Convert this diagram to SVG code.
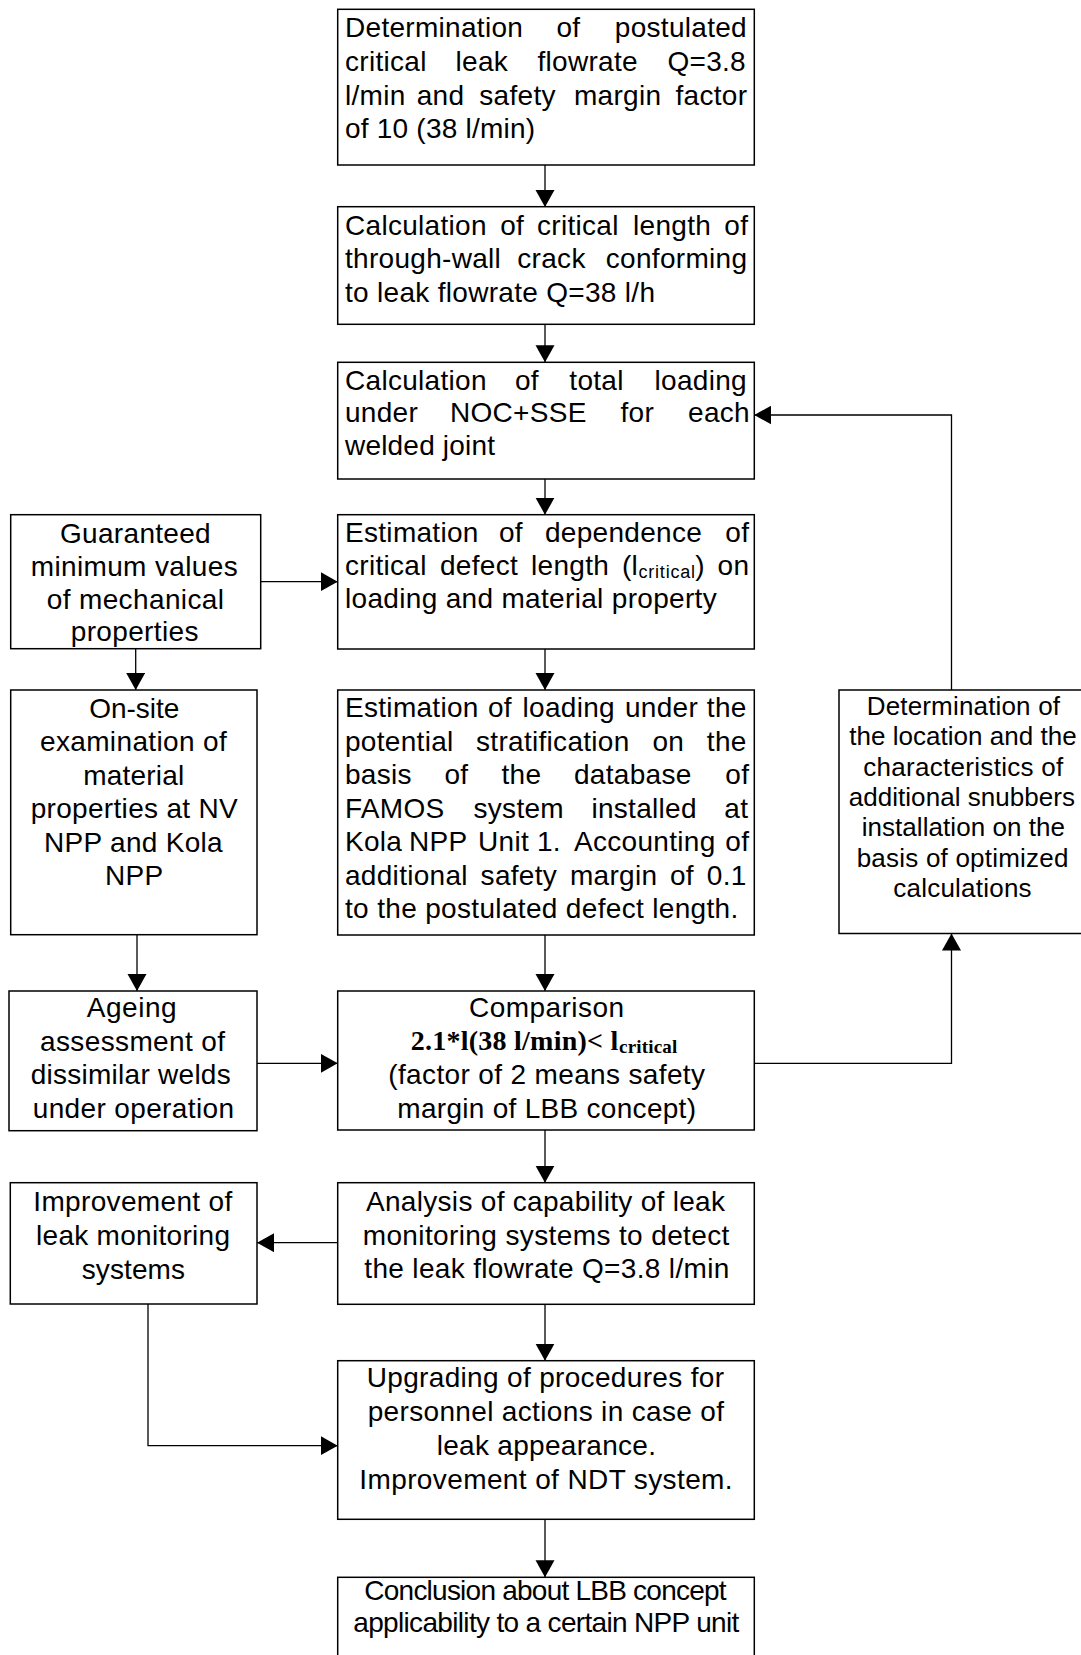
<svg xmlns="http://www.w3.org/2000/svg" width="1081" height="1655" viewBox="0 0 1081 1655">
<style>
.box{fill:#fff;stroke:#000;stroke-width:1.5}
.t{font-family:"Liberation Sans",Arial,sans-serif;font-size:28px;fill:#000;letter-spacing:0.3px}
.l{font-family:"Liberation Sans",Arial,sans-serif;font-size:28px;fill:#000}
.r{font-family:"Liberation Sans",Arial,sans-serif;font-size:26px;fill:#000}
.e{text-anchor:end}
.sub{font-family:"Liberation Sans",Arial,sans-serif;font-size:18px;fill:#000}
.b{font-family:"Liberation Serif","Times New Roman",serif;font-weight:bold;font-size:28px;fill:#000}
.bs{font-family:"Liberation Serif","Times New Roman",serif;font-weight:bold;font-size:19px;fill:#000}
.c{fill:none;stroke:#000;stroke-width:1.3}
</style>
<defs>
<marker id="ah" markerUnits="userSpaceOnUse" markerWidth="18" markerHeight="20" refX="17" refY="9.5" orient="auto">
<path d="M0,0 L17,9.5 L0,19 z" fill="#000"/>
</marker>
</defs>
<rect width="1081" height="1655" fill="#fff"/>

<g id="connectors">
<line class="c" x1="545" y1="165" x2="545" y2="207" marker-end="url(#ah)"/>
<line class="c" x1="545" y1="324.3" x2="545" y2="362.3" marker-end="url(#ah)"/>
<line class="c" x1="545" y1="479" x2="545" y2="514.7" marker-end="url(#ah)"/>
<line class="c" x1="545" y1="649" x2="545" y2="690" marker-end="url(#ah)"/>
<line class="c" x1="545" y1="935" x2="545" y2="991" marker-end="url(#ah)"/>
<line class="c" x1="545" y1="1130" x2="545" y2="1182.7" marker-end="url(#ah)"/>
<line class="c" x1="545" y1="1304.3" x2="545" y2="1360.7" marker-end="url(#ah)"/>
<line class="c" x1="545" y1="1519.3" x2="545" y2="1577.3" marker-end="url(#ah)"/>
<line class="c" x1="260.7" y1="581.7" x2="337.7" y2="581.7" marker-end="url(#ah)"/>
<line class="c" x1="135.7" y1="648.7" x2="135.7" y2="690" marker-end="url(#ah)"/>
<line class="c" x1="137" y1="934.7" x2="137" y2="991" marker-end="url(#ah)"/>
<line class="c" x1="257" y1="1063.3" x2="337.7" y2="1063.3" marker-end="url(#ah)"/>
<polyline class="c" points="754.3,1063.3 951.5,1063.3 951.5,933.5" marker-end="url(#ah)"/>
<polyline class="c" points="951.5,690 951.5,415 754.3,415" marker-end="url(#ah)"/>
<line class="c" x1="337.7" y1="1242.7" x2="257" y2="1242.7" marker-end="url(#ah)"/>
<polyline class="c" points="148,1304 148,1445.7 337.7,1445.7" marker-end="url(#ah)"/>
</g>

<g id="n1">
<rect class="box" x="337.7" y="9.3" width="416.6" height="155.7"/>
<text class="t" y="37"><tspan x="345">Determination</tspan><tspan x="556.5">of</tspan></text>
<text class="t e" x="747" y="37">postulated</text>
<text class="t" y="71"><tspan x="345">critical</tspan><tspan x="455.5">leak</tspan><tspan x="537.5">flowrate</tspan></text>
<text class="t e" x="746" y="71">Q=3.8</text>
<text class="t" y="105"><tspan x="345">l/min</tspan><tspan x="416.7">and</tspan><tspan x="479.3">safety</tspan><tspan x="574">margin</tspan></text>
<text class="t e" x="747.3" y="105">factor</text>
<text class="l" x="345" y="138" textLength="190" lengthAdjust="spacing">of 10 (38 l/min)</text>
</g>

<g id="n2">
<rect class="box" x="337.7" y="206.7" width="416.6" height="117.6"/>
<text class="t" y="235"><tspan x="345">Calculation</tspan><tspan x="500.2">of</tspan><tspan x="537">critical</tspan><tspan x="633">length</tspan></text>
<text class="t e" x="748.3" y="235">of</text>
<text class="t" y="268.3"><tspan x="345">through-wall</tspan><tspan x="517.3">crack</tspan></text>
<text class="t e" x="747.3" y="268.3">conforming</text>
<text class="l" x="345" y="301.7" textLength="310" lengthAdjust="spacing">to leak flowrate Q=38 l/h</text>
</g>

<g id="n3">
<rect class="box" x="337.7" y="362.3" width="416.6" height="116.7"/>
<text class="t" y="390"><tspan x="345">Calculation</tspan><tspan x="515">of</tspan><tspan x="569.3">total</tspan></text>
<text class="t e" x="747" y="390">loading</text>
<text class="t" y="422"><tspan x="345">under</tspan><tspan x="450">NOC+SSE</tspan><tspan x="620.5">for</tspan></text>
<text class="t e" x="750" y="422">each</text>
<text class="l" x="345" y="455" textLength="150" lengthAdjust="spacing">welded joint</text>
</g>

<g id="n4">
<rect class="box" x="337.7" y="514.7" width="416.6" height="134.3"/>
<text class="t" y="541.7"><tspan x="345">Estimation</tspan><tspan x="499">of</tspan><tspan x="545">dependence</tspan></text>
<text class="t e" x="749.3" y="541.7">of</text>
<text class="t" y="575"><tspan x="345">critical</tspan><tspan x="440">defect</tspan><tspan x="531">length</tspan><tspan x="622">(l</tspan></text>
<text class="sub" x="638.5" y="578" textLength="56.5" lengthAdjust="spacing">critical</text>
<text class="t" x="695.2" y="575">)</text>
<text class="t e" x="749.3" y="575">on</text>
<text class="l" x="345" y="608.3" textLength="371.7" lengthAdjust="spacing">loading and material property</text>
</g>

<g id="n5">
<rect class="box" x="337.7" y="690" width="416.6" height="245"/>
<text class="t" y="717"><tspan x="345">Estimation</tspan><tspan x="488">of</tspan><tspan x="522.5">loading</tspan><tspan x="625">under</tspan></text>
<text class="t e" x="746.7" y="717">the</text>
<text class="t" y="750.5"><tspan x="345">potential</tspan><tspan x="476">stratification</tspan><tspan x="652.5">on</tspan></text>
<text class="t e" x="746.7" y="750.5">the</text>
<text class="t" y="784"><tspan x="345">basis</tspan><tspan x="444.5">of</tspan><tspan x="501.5">the</tspan><tspan x="574">database</tspan></text>
<text class="t e" x="749.3" y="784">of</text>
<text class="t" y="817.5"><tspan x="345">FAMOS</tspan><tspan x="473.5">system</tspan><tspan x="591.4">installed</tspan></text>
<text class="t e" x="748.3" y="817.5">at</text>
<text class="t" y="851"><tspan x="345">Kola</tspan><tspan x="409">NPP</tspan><tspan x="478">Unit</tspan><tspan x="537">1.</tspan><tspan x="574">Accounting</tspan></text>
<text class="t e" x="749.3" y="851">of</text>
<text class="t" y="884.5"><tspan x="345">additional</tspan><tspan x="480.6">safety</tspan><tspan x="570">margin</tspan><tspan x="670">of</tspan></text>
<text class="t e" x="746.7" y="884.5">0.1</text>
<text class="l" x="345" y="918" textLength="393.3" lengthAdjust="spacing">to the postulated defect length.</text>
</g>

<g id="n6">
<rect class="box" x="337.7" y="991" width="416.6" height="139"/>
<text class="l" x="469" y="1017" textLength="155" lengthAdjust="spacing">Comparison</text>
<text class="b" x="410.7" y="1050" textLength="207.6" lengthAdjust="spacing">2.1*l(38 l/min)&lt; l</text>
<text class="bs" x="619" y="1053" textLength="58.3" lengthAdjust="spacing">critical</text>
<text class="l" x="388.3" y="1084" textLength="316.7" lengthAdjust="spacing">(factor of 2 means safety</text>
<text class="l" x="397.3" y="1118" textLength="298.7" lengthAdjust="spacing">margin of LBB concept)</text>
</g>

<g id="n7">
<rect class="box" x="337.7" y="1182.7" width="416.6" height="121.6"/>
<text class="l" x="366" y="1211" textLength="359" lengthAdjust="spacing">Analysis of capability of leak</text>
<text class="l" x="362.7" y="1245" textLength="366.7" lengthAdjust="spacing">monitoring systems to detect</text>
<text class="l" x="364.3" y="1278" textLength="365" lengthAdjust="spacing">the leak flowrate Q=3.8 l/min</text>
</g>

<g id="n8">
<rect class="box" x="337.7" y="1360.7" width="416.6" height="158.6"/>
<text class="l" x="366.7" y="1387" textLength="357.3" lengthAdjust="spacing">Upgrading of procedures for</text>
<text class="l" x="367.7" y="1421" textLength="356.3" lengthAdjust="spacing">personnel actions in case of</text>
<text class="l" x="436.7" y="1455" textLength="219.3" lengthAdjust="spacing">leak appearance.</text>
<text class="l" x="359.3" y="1489" textLength="373.3" lengthAdjust="spacing">Improvement of NDT system.</text>
</g>

<g id="n9">
<rect class="box" x="337.7" y="1577.3" width="416.6" height="100"/>
<text class="l" x="364.3" y="1600" textLength="362.3" lengthAdjust="spacing">Conclusion about LBB concept</text>
<text class="l" x="353.3" y="1632" textLength="386" lengthAdjust="spacing">applicability to a certain NPP unit</text>
</g>

<g id="n10">
<rect class="box" x="10.7" y="514.7" width="250" height="134"/>
<text class="l" x="60" y="542.5" textLength="150.7" lengthAdjust="spacing">Guaranteed</text>
<text class="l" x="30.7" y="575.5" textLength="207" lengthAdjust="spacing">minimum values</text>
<text class="l" x="46.7" y="608.5" textLength="177.3" lengthAdjust="spacing">of mechanical</text>
<text class="l" x="70.7" y="641" textLength="127.7" lengthAdjust="spacing">properties</text>
</g>

<g id="n11">
<rect class="box" x="10.7" y="690" width="246.3" height="244.7"/>
<text class="l" x="89.3" y="717.5" textLength="90" lengthAdjust="spacing">On-site</text>
<text class="l" x="40" y="751" textLength="186.7" lengthAdjust="spacing">examination of</text>
<text class="l" x="83.3" y="784.5" textLength="101" lengthAdjust="spacing">material</text>
<text class="l" x="30.7" y="818" textLength="207" lengthAdjust="spacing">properties at NV</text>
<text class="l" x="44" y="851.5" textLength="178.7" lengthAdjust="spacing">NPP and Kola</text>
<text class="l" x="105" y="885" textLength="58.3" lengthAdjust="spacing">NPP</text>
</g>

<g id="n12">
<rect class="box" x="9" y="991" width="248" height="139.7"/>
<text class="l" x="86.7" y="1017" textLength="90" lengthAdjust="spacing">Ageing</text>
<text class="l" x="40" y="1050.5" textLength="185" lengthAdjust="spacing">assessment of</text>
<text class="l" x="30.7" y="1084" textLength="200" lengthAdjust="spacing">dissimilar welds</text>
<text class="l" x="32.7" y="1117.5" textLength="201.3" lengthAdjust="spacing">under operation</text>
</g>

<g id="n13">
<rect class="box" x="10.3" y="1182.7" width="246.7" height="121.3"/>
<text class="l" x="33.3" y="1211" textLength="199" lengthAdjust="spacing">Improvement of</text>
<text class="l" x="36" y="1245" textLength="194" lengthAdjust="spacing">leak monitoring</text>
<text class="l" x="81.7" y="1279" textLength="103.3" lengthAdjust="spacing">systems</text>
</g>

<g id="n14">
<rect class="box" x="839" y="690" width="260" height="243.5"/>
<text class="r" x="866.7" y="715" textLength="193.3" lengthAdjust="spacing">Determination of</text>
<text class="r" x="849.3" y="745.3" textLength="227.3" lengthAdjust="spacing">the location and the</text>
<text class="r" x="863.3" y="775.6" textLength="200" lengthAdjust="spacing">characteristics of</text>
<text class="r" x="848.7" y="806" textLength="226.3" lengthAdjust="spacing">additional snubbers</text>
<text class="r" x="861.7" y="836.2" textLength="203.3" lengthAdjust="spacing">installation on the</text>
<text class="r" x="856.7" y="866.5" textLength="211.7" lengthAdjust="spacing">basis of optimized</text>
<text class="r" x="893.3" y="896.8" textLength="138.3" lengthAdjust="spacing">calculations</text>
</g>
</svg>
